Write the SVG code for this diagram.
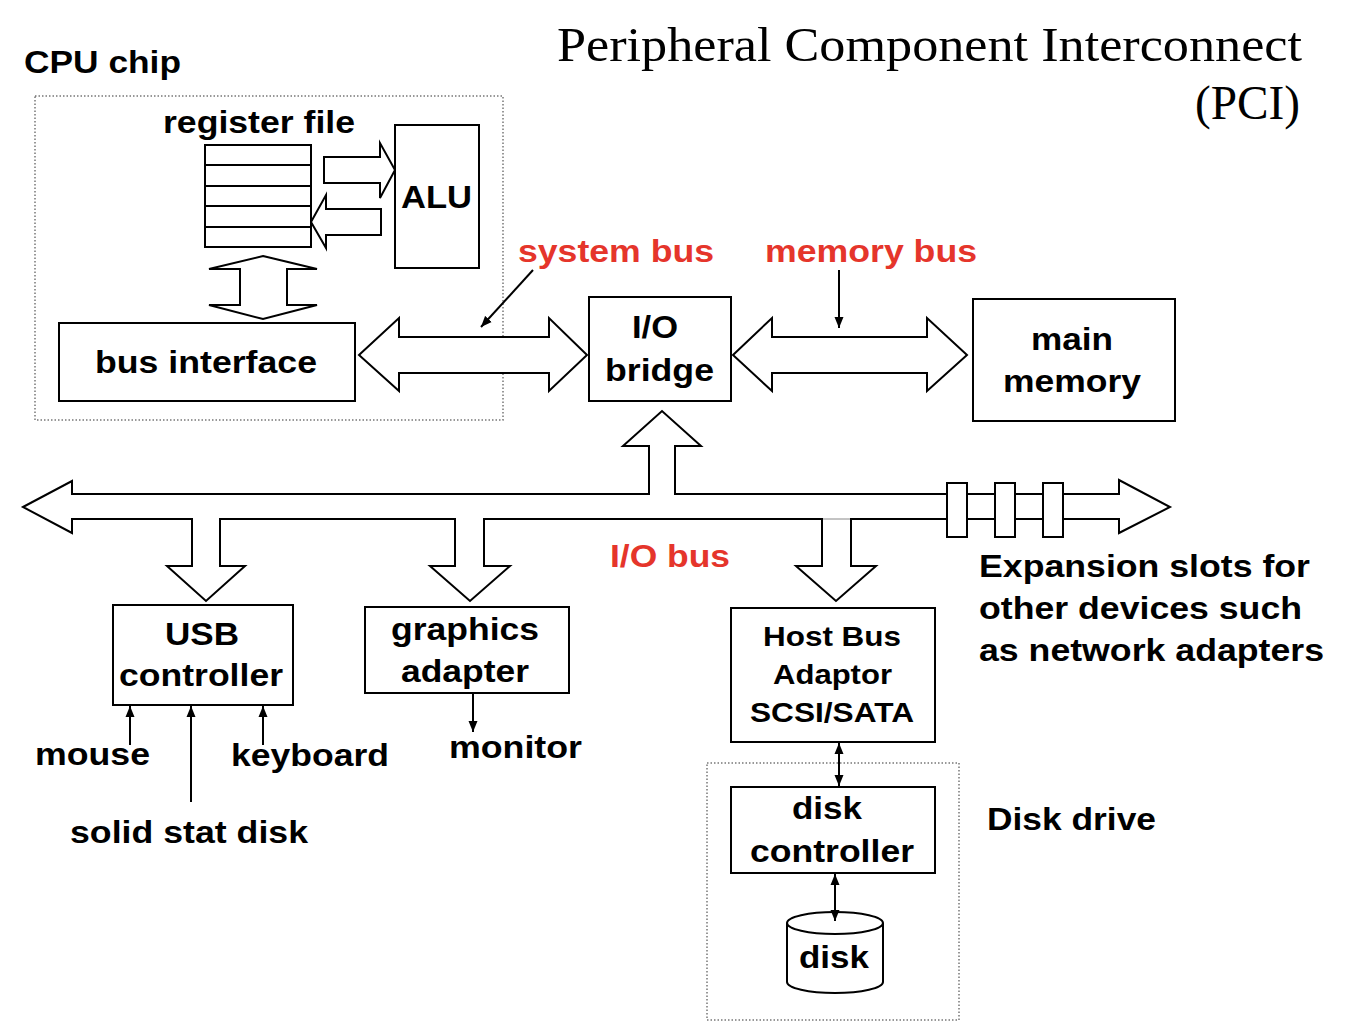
<svg xmlns="http://www.w3.org/2000/svg" width="1354" height="1022" viewBox="0 0 1354 1022">
<style>
  .t { font-family: "Liberation Sans", Arial, Helvetica, sans-serif; font-weight: bold; font-size: 32px; fill: #000; }
  .m { text-anchor: middle; }
  .red { fill: #e5352b; }
  .sm { font-size: 28px; }
  .title { font-family: "Liberation Serif", "Times New Roman", serif; font-size: 48px; fill: #000; }
  .box { fill: #fff; stroke: #000; stroke-width: 2; }
  .dot { fill: none; stroke: #777; stroke-width: 1.5; stroke-dasharray: 1.5 2; }
  .big { fill: #fff; stroke: #000; stroke-width: 2; stroke-linejoin: miter; }
  .ln { fill: none; stroke: #000; stroke-width: 2; }
</style>
<defs>
  <marker id="ah" viewBox="0 0 11 10" refX="11" refY="5" markerWidth="11" markerHeight="10" markerUnits="userSpaceOnUse" orient="auto-start-reverse">
    <path d="M0,0.5 L11,5 L0,9.5 z" fill="#000"/>
  </marker>
</defs>
<rect width="1354" height="1022" fill="#fff"/>

<g id="title">
  <text class="title" x="557" y="61" textLength="745" lengthAdjust="spacingAndGlyphs">Peripheral Component Interconnect</text>
  <text class="title" x="1300" y="119" text-anchor="end" textLength="105" lengthAdjust="spacingAndGlyphs">(PCI)</text>
</g>

<g id="cpu-chip">
  <rect class="dot" x="35" y="96" width="468" height="324"/>
  <text class="t" x="24" y="73" textLength="157" lengthAdjust="spacingAndGlyphs">CPU chip</text>
</g>

<g id="register-file">
  <rect class="box" x="205" y="145" width="106" height="102"/>
  <path class="ln" d="M205,165 H311 M205,186 H311 M205,206 H311 M205,227 H311"/>
  <text class="t m" x="259" y="133" textLength="192" lengthAdjust="spacingAndGlyphs">register file</text>
</g>

<g id="alu">
  <rect class="box" x="395" y="125" width="84" height="143"/>
  <text class="t m" x="436.5" y="208" font-size="34" textLength="71" lengthAdjust="spacingAndGlyphs">ALU</text>
</g>

<g id="bus-interface">
  <rect class="box" x="59" y="323" width="296" height="78"/>
  <text class="t m" x="206" y="373" textLength="222" lengthAdjust="spacingAndGlyphs">bus interface</text>
</g>

<g id="io-bridge">
  <rect class="box" x="589" y="297" width="142" height="104"/>
  <text class="t m" x="655" y="338" textLength="46" lengthAdjust="spacingAndGlyphs">I/O</text>
  <text class="t m" x="659.5" y="381" textLength="109" lengthAdjust="spacingAndGlyphs">bridge</text>
</g>

<g id="main-memory">
  <rect class="box" x="973" y="299" width="202" height="122"/>
  <text class="t m" x="1072" y="350" textLength="82" lengthAdjust="spacingAndGlyphs">main</text>
  <text class="t m" x="1072" y="392" textLength="138" lengthAdjust="spacingAndGlyphs">memory</text>
</g>

<g id="usb-controller">
  <rect class="box" x="113" y="605" width="180" height="100"/>
  <text class="t m" x="202" y="645" textLength="74" lengthAdjust="spacingAndGlyphs">USB</text>
  <text class="t m" x="201" y="686" textLength="164" lengthAdjust="spacingAndGlyphs">controller</text>
</g>

<g id="graphics-adapter">
  <rect class="box" x="365" y="607" width="204" height="86"/>
  <text class="t m" x="465" y="640" textLength="148" lengthAdjust="spacingAndGlyphs">graphics</text>
  <text class="t m" x="465" y="682" textLength="128" lengthAdjust="spacingAndGlyphs">adapter</text>
</g>

<g id="host-bus-adaptor">
  <rect class="box" x="731" y="608" width="204" height="134"/>
  <text class="t sm m" x="832" y="646" textLength="138" lengthAdjust="spacingAndGlyphs">Host Bus</text>
  <text class="t sm m" x="832.5" y="684" textLength="119" lengthAdjust="spacingAndGlyphs">Adaptor</text>
  <text class="t sm m" x="832" y="722" textLength="164" lengthAdjust="spacingAndGlyphs">SCSI/SATA</text>
</g>

<g id="disk-drive">
  <rect class="dot" x="707" y="763" width="252" height="257"/>
  <text class="t" x="987" y="830" textLength="169" lengthAdjust="spacingAndGlyphs">Disk drive</text>
</g>

<g id="disk-controller">
  <rect class="box" x="731" y="787" width="204" height="86"/>
  <text class="t m" x="827" y="819" textLength="70" lengthAdjust="spacingAndGlyphs">disk</text>
  <text class="t m" x="832" y="862" textLength="164" lengthAdjust="spacingAndGlyphs">controller</text>
</g>

<g id="disk">
  <path class="box" d="M787,923 V982 A48,11 0 0 0 883,982 V923"/>
  <ellipse class="box" cx="835" cy="923" rx="48" ry="11"/>
  <text class="t m" x="834" y="968" textLength="70" lengthAdjust="spacingAndGlyphs">disk</text>
</g>

<g id="expansion-slots">
  <rect class="box" x="947" y="483" width="20" height="54"/>
  <rect class="box" x="995" y="483" width="20" height="54"/>
  <rect class="box" x="1043" y="483" width="20" height="54"/>
  <text class="t" x="979" y="577" textLength="331" lengthAdjust="spacingAndGlyphs">Expansion slots for</text>
  <text class="t" x="979" y="619" textLength="323" lengthAdjust="spacingAndGlyphs">other devices such</text>
  <text class="t" x="979" y="661" textLength="345" lengthAdjust="spacingAndGlyphs">as network adapters</text>
</g>

<g id="devices">
  <text class="t" x="35" y="765" textLength="115" lengthAdjust="spacingAndGlyphs">mouse</text>
  <text class="t" x="231" y="766" textLength="158" lengthAdjust="spacingAndGlyphs">keyboard</text>
  <text class="t" x="70" y="843" textLength="238" lengthAdjust="spacingAndGlyphs">solid stat disk</text>
  <text class="t" x="449" y="758" textLength="133" lengthAdjust="spacingAndGlyphs">monitor</text>
</g>

<g id="bus-labels">
  <text class="t red" x="518" y="262" textLength="196" lengthAdjust="spacingAndGlyphs">system bus</text>
  <text class="t red" x="765" y="262" textLength="212" lengthAdjust="spacingAndGlyphs">memory bus</text>
  <text class="t red" x="610" y="567" textLength="120" lengthAdjust="spacingAndGlyphs">I/O bus</text>
</g>

<g id="connectors">
  <!-- CPU internal wide arrows -->
  <polygon class="big" points="324,157 380,157 380,143 395,170 380,198 380,183 324,183"/>
  <polygon class="big" points="381,209 326,209 326,195 311,222 326,248 326,235 381,235"/>
  <polygon class="big" points="263,256 317,269 287,269 287,305 317,305 263,319 209,305 240,305 240,269 209,269"/>
  <!-- system bus -->
  <polygon class="big" points="359,355 399,318 399,337 549,337 549,318 587,355 549,391 549,373 399,373 399,391"/>
  <!-- memory bus -->
  <polygon class="big" points="733,355 772,318 772,337 927,337 927,318 967,355 927,391 927,373 772,373 772,391"/>
  <!-- I/O bus -->
  <polygon class="big" points="23,507 72,481 72,494 649,494 649,446 623,446 662,411 701,446 675,446 675,494 1119,494 1119,480 1170,507 1119,533 1119,519 851,519 851,566 876,566 836,601 796,566 822,566 822,519 484,519 484,566 510,566 470,601 430,566 455,566 455,519 220,519 220,566 245,566 206,601 167,566 192,566 192,519 72,519 72,533"/>
  <line x1="823" y1="519" x2="850" y2="519" stroke="#888" stroke-width="1"/>
  <!-- expansion slots on top of bus -->
  <rect class="box" x="947" y="483" width="20" height="54"/>
  <rect class="box" x="995" y="483" width="20" height="54"/>
  <rect class="box" x="1043" y="483" width="20" height="54"/>
  <!-- label pointers -->
  <line class="ln" x1="533" y1="270" x2="481" y2="327" marker-end="url(#ah)"/>
  <line class="ln" x1="839" y1="270" x2="839" y2="328" marker-end="url(#ah)"/>
  <!-- device arrows -->
  <line class="ln" x1="130" y1="745" x2="130" y2="706" marker-end="url(#ah)"/>
  <line class="ln" x1="191" y1="802" x2="191" y2="706" marker-end="url(#ah)"/>
  <line class="ln" x1="263" y1="745" x2="263" y2="706" marker-end="url(#ah)"/>
  <line class="ln" x1="473" y1="694" x2="473" y2="732" marker-end="url(#ah)"/>
  <line class="ln" x1="839" y1="743" x2="839" y2="786" marker-start="url(#ah)" marker-end="url(#ah)"/>
  <line class="ln" x1="835" y1="874" x2="835" y2="921" marker-start="url(#ah)" marker-end="url(#ah)"/>
</g>
</svg>
